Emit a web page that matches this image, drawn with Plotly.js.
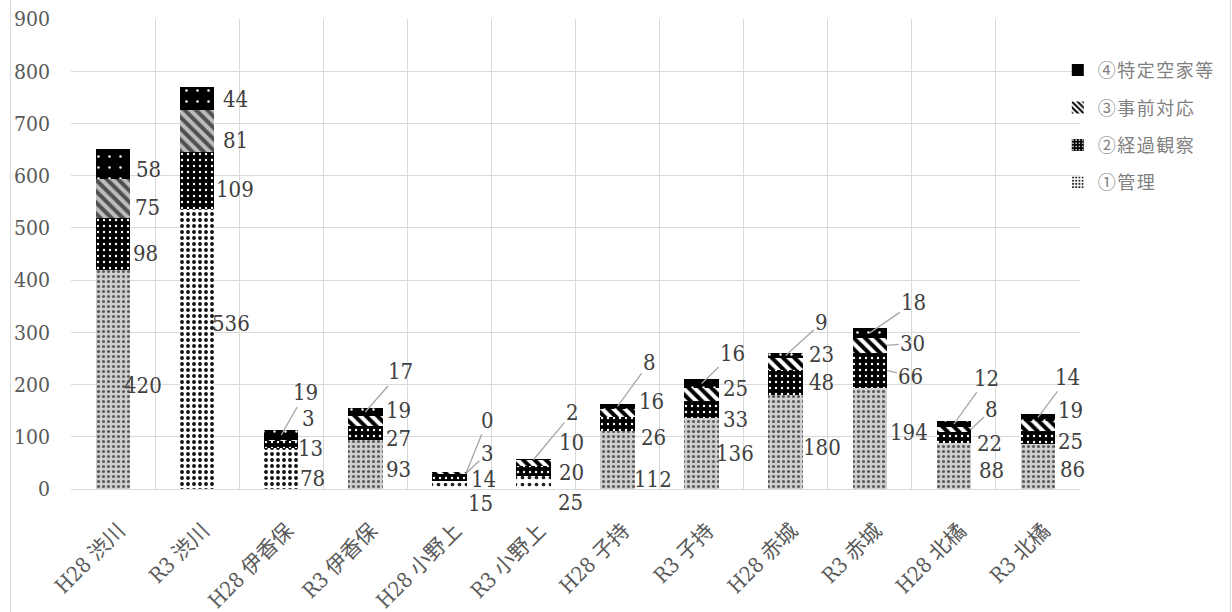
<!DOCTYPE html>
<html>
<head>
<meta charset="utf-8">
<script src="https://cdn.plot.ly/plotly-3.0.1.min.js"></script>
<style>
  html, body { margin: 0; padding: 0; background: #fff; }
  #wrap { position: relative; width: 1232px; height: 612px; overflow: hidden; }
  #chart { width: 1232px; height: 612px; }
  .bl { position: absolute; top: 0; width: 0; height: 612px; border-left: 1px solid #d9d9d9; pointer-events: none; }
  .legendtext { letter-spacing: 1.5px; }
</style>
</head>
<body>
<div id="wrap">
  <div id="chart"></div>
  <div class="bl" style="left:10px"></div>
  <div class="bl" style="left:1230px"></div>
</div>
<script>
// ---- data ----
const categories = ["H28 渋川", "R3 渋川", "H28 伊香保", "R3 伊香保", "H28 小野上", "R3 小野上",
                    "H28 子持", "R3 子持", "H28 赤城", "R3 赤城", "H28 北橘", "R3 北橘"];
const kanri   = [420, 536, 78, 93, 15, 25, 112, 136, 180, 194, 88, 86];   // ①管理
const keika   = [98, 109, 13, 27, 14, 20, 26, 33, 48, 66, 22, 25];        // ②経過観察
const jizen   = [75, 81, 3, 19, 3, 10, 16, 25, 23, 30, 8, 19];            // ③事前対応
const tokutei = [58, 44, 19, 17, 0, 2, 8, 16, 9, 18, 12, 14];             // ④特定空家等
const seriesNames = ["①管理", "②経過観察", "③事前対応", "④特定空家等"];

// ---- label placement (pixel offsets from segment middle; L = leader line) ----
const labelOffsets = [
  // ①
  [[30,6],[34,-26],[31,10],[33,5],[31,18],[37,20],[35,20],[33,0],[36,5],[39,-6],[38,4],[35,3]],
  // ②
  [[32,9],[38,9],[29,4],[33,5],[34,2],[38,2],[36,14],[34,10],[36,0],[24,6,'L',17],[36,6],[33,4]],
  // ③
  [[34,9],[38,9],[27,-22],[33,-11],[21,-20,'L',17],[38,-20],[34,-11],[34,-6],[36,-9],[26,-2,'L',17],[21,-20,'L',17],[33,-16]],
  // ④
  [[35,5],[38,1],[24,-42,'L',0],[35,-40,'L',0],[21,-52,'L',17],[39,-47,'L',0],[32,-44,'L',0],[31,-30,'L',0],[36,-33,'L',0],[44,-30,'L',0],[33,-46,'L',0],[30,-40,'L',0]]
];

const serifFont = "DejaVu Serif Condensed, DejaVu Serif, Noto Sans CJK JP, serif";

const gray = {shape: ".", bg: "#cfcfcf", fg: "#5a5a5a", size: 5, sol: 0.3};
const dash = {shape: ".", bg: "#ffffff", fg: "#111111", size: 6, sol: 0.33};
const dots = {shape: ".", bg: "#ffffff", fg: "#222222", size: 7, sol: 0.22};
const kanriStyle = [gray, dash, dash, gray, dots, dots, gray, gray, gray, gray, gray, gray];

const patterns = [
  {
    shape: kanriStyle.map(s => s.shape), bgcolor: kanriStyle.map(s => s.bg),
    fgcolor: kanriStyle.map(s => s.fg), size: kanriStyle.map(s => s.size),
    solidity: kanriStyle.map(s => s.sol), fillmode: "replace"
  },
  {shape: ".", bgcolor: "#000000", fgcolor: "#ffffff", size: 6, solidity: 0.12, fillmode: "replace"},
  {
    shape: "\\", fillmode: "replace", size: 8, solidity: 0.5,
    bgcolor: categories.map((c, i) => i < 2 ? "#bdbdbd" : "#ffffff"),
    fgcolor: categories.map((c, i) => i < 2 ? "#505050" : "#000000")
  },
  {shape: ".", bgcolor: "#000000", fgcolor: "#ffffff", size: 11, solidity: 0.04, fillmode: "replace"}
];
// legend swatches
const legendPatterns = [
  {shape: ".", bgcolor: "#ffffff", fgcolor: "#222222", size: 4, solidity: 0.35, fillmode: "replace"},
  {shape: ".", bgcolor: "#000000", fgcolor: "#ffffff", size: 4, solidity: 0.2, fillmode: "replace"},
  {shape: "\\", bgcolor: "#ffffff", fgcolor: "#000000", size: 5, solidity: 0.5, fillmode: "replace"},
  {shape: "", fillmode: "replace"}
];

const stacks = [kanri, keika, jizen, tokutei];
const traces = [];
stacks.forEach((arr, k) => {
  traces.push({
    type: "bar", x: categories, y: arr, name: seriesNames[k], showlegend: false,
    marker: {color: "#000000", line: {width: 0}, pattern: patterns[k]},
    hoverinfo: "skip"
  });
});
[3, 2, 1, 0].forEach(k => {
  traces.push({
    type: "bar", x: [categories[0]], y: [null], name: seriesNames[k], showlegend: true,
    legendgroup: "lg" + k,
    marker: {color: "#000000", line: {width: 0}, pattern: legendPatterns[k]},
    hoverinfo: "skip"
  });
});

// ---- annotations from data ----
const annotations = [];
categories.forEach((cat, i) => {
  let base = 0;
  stacks.forEach((arr, s) => {
    const v = arr[i];
    const mid = base + v / 2;
    base += v;
    const o = labelOffsets[s][i];
    const common = {
      x: cat, y: mid, xref: "x", yref: "y", text: String(v),
      font: {family: serifFont, size: 22, color: "#404040"}
    };
    if (o[2] === 'L') {
      annotations.push(Object.assign(common, {
        showarrow: true, arrowhead: 0, arrowwidth: 1.3, arrowcolor: "#a6a6a6",
        standoff: 0, ax: o[0], ay: o[1], xshift: o[3] || 0
      }));
    } else {
      annotations.push(Object.assign(common, {
        showarrow: false, xshift: o[0], yshift: -o[1]
      }));
    }
  });
});

const layout = {
  width: 1232, height: 612,
  margin: {l: 71, r: 140, t: 19, b: 123, pad: 0},
  paper_bgcolor: "#ffffff", plot_bgcolor: "#ffffff",
  barmode: "stack", bargap: 0.59,
  showlegend: true,
  legend: {
    x: 0.978, xanchor: "left", y: 0.93, yanchor: "top",
    traceorder: "grouped", tracegroupgap: 11, itemsizing: "constant",
    font: {family: "Noto Sans CJK JP, sans-serif", size: 18, color: "#7f7f7f"},
    bgcolor: "rgba(0,0,0,0)", itemwidth: 30
  },
  xaxis: {
    type: "category", tickson: "boundaries", showgrid: true, gridcolor: "#d9d9d9", gridwidth: 1,
    showline: true, linecolor: "#d9d9d9", linewidth: 1, ticks: "", tickangle: -45,
    ticklabelstandoff: 20, ticklabelshift: 6,
    tickfont: {family: serifFont, size: 21, color: "#595959"},
    range: [-0.5, 11.5], fixedrange: true
  },
  yaxis: {
    range: [0, 900], dtick: 100, showgrid: true, gridcolor: "#d9d9d9", gridwidth: 1,
    zeroline: false, showline: false, ticks: "", ticklabelstandoff: 20,
    tickfont: {family: serifFont, size: 21, color: "#595959"}, fixedrange: true
  },
  shapes: [
    {type: "line", xref: "paper", yref: "paper", x0: 0, x1: 0, y0: 0.002, y1: 1,
     line: {color: "#ffffff", width: 2}, layer: "between"}
  ],
  annotations: annotations
};

Plotly.newPlot("chart", traces, layout, {staticPlot: true, displayModeBar: false});
</script>
</body>
</html>
